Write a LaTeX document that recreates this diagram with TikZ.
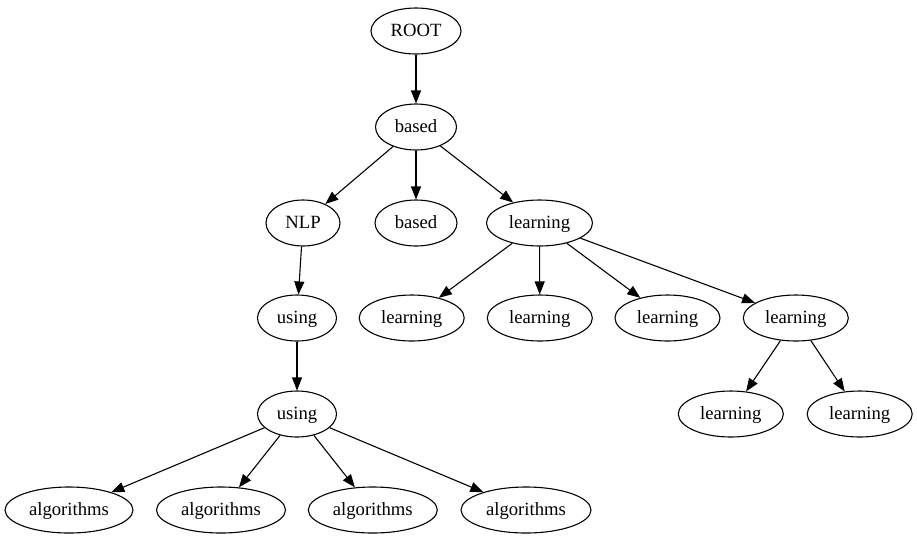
\documentclass[tikz,border=0pt]{standalone}
\usepackage{fontspec}
\setmainfont{Liberation Serif}
\usetikzlibrary{shapes.geometric,arrows.meta}
\begin{document}
\begin{tikzpicture}[x=1pt,y=-1pt,
  nd/.style={draw,ellipse,line width=1.1pt,inner sep=0pt,minimum height=46pt,
    text height=14pt,text depth=4pt,
    font=\fontsize{18.67}{22}\selectfont},
  edge/.style={line width=1.1pt,-{Triangle[length=13pt,width=10pt]}}]
\useasboundingbox (0,0) rectangle (917,539);
\node[nd,minimum width=90pt] (root) at (416,31) {ROOT};
\node[nd,minimum width=81pt] (b1) at (416,127) {based};
\node[nd,minimum width=74pt] (nlp) at (303,223) {NLP};
\node[nd,minimum width=82pt] (b2) at (416,223) {based};
\node[nd,minimum width=106pt] (l0) at (539.5,223) {learning};
\node[nd,minimum width=79pt] (u1) at (297,318) {using};
\node[nd,minimum width=105pt] (l1) at (411.7,318) {learning};
\node[nd,minimum width=105pt] (l2) at (539.8,318) {learning};
\node[nd,minimum width=105pt] (l3) at (667.5,318) {learning};
\node[nd,minimum width=105pt] (l4) at (795.8,318) {learning};
\node[nd,minimum width=79pt] (u2) at (297,414) {using};
\node[nd,minimum width=105pt] (l5) at (730.8,414) {learning};
\node[nd,minimum width=105pt] (l6) at (859.7,414) {learning};
\node[nd,minimum width=128pt] (a1) at (69,510) {algorithms};
\node[nd,minimum width=129pt] (a2) at (221,510) {algorithms};
\node[nd,minimum width=129pt] (a3) at (372.8,510) {algorithms};
\node[nd,minimum width=130pt] (a4) at (526,510) {algorithms};
\draw[edge] (root) -- (b1);
\draw[edge] (b1) -- (nlp);
\draw[edge] (b1) -- (b2);
\draw[edge] (b1) -- (l0);
\draw[edge] (nlp) -- (u1);
\draw[edge] (u1) -- (u2);
\draw[edge] (u2) -- (a1);
\draw[edge] (u2) -- (a2);
\draw[edge] (u2) -- (a3);
\draw[edge] (u2) -- (a4);
\draw[edge] (l0) -- (l1);
\draw[edge] (l0) -- (l2);
\draw[edge] (l0) -- (l3);
\draw[edge] (l0) -- (l4);
\draw[edge] (l4) -- (l5);
\draw[edge] (l4) -- (l6);
\end{tikzpicture}
\end{document}
